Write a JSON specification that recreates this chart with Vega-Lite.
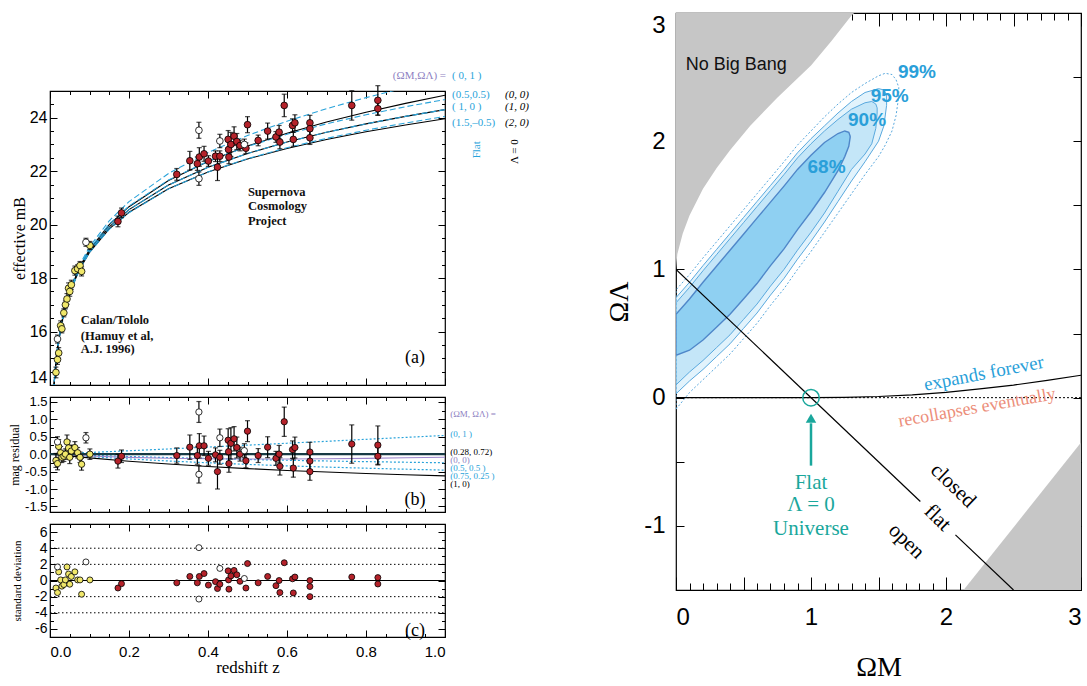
{
"$schema":"https://vega.github.io/schema/vega-lite/v6.json",
"background":"white",
"padding":{"left":7,"top":11,"right":0,"bottom":0},
"config":{
 "view":{"stroke":"black","strokeWidth":1.2},
 "axis":{"domain":false,"grid":false,"tickColor":"black","tickWidth":1,"labelColor":"black","titleColor":"black","labelFont":"Liberation Sans","titleFont":"Liberation Serif","titleFontWeight":"normal","labelOverlap":false,"labelBound":false}
},
"datasets":{
 "sn":[
  {"z":0.172,"m":20.12,"r":-0.20,"s":-0.93,"e":0.20,"g":"SCP"},
  {"z":0.181,"m":20.44,"r":-0.06,"s":-0.39,"e":0.18,"g":"SCP"},
  {"z":0.321,"m":21.88,"r":-0.04,"s":-0.29,"e":0.22,"g":"SCP"},
  {"z":0.354,"m":22.39,"r":0.20,"s":0.50,"e":0.35,"g":"SCP"},
  {"z":0.373,"m":22.28,"r":-0.04,"s":-0.29,"e":0.25,"g":"SCP"},
  {"z":0.378,"m":22.53,"r":0.24,"s":0.50,"e":0.35,"g":"SCP"},
  {"z":0.390,"m":22.65,"r":0.24,"s":0.86,"e":0.28,"g":"SCP"},
  {"z":0.401,"m":22.38,"r":-0.12,"s":-0.57,"e":0.20,"g":"SCP"},
  {"z":0.419,"m":22.56,"r":-0.02,"s":-0.14,"e":0.20,"g":"SCP"},
  {"z":0.424,"m":22.15,"r":-0.50,"s":-1.00,"e":0.50,"g":"SCP"},
  {"z":0.430,"m":22.56,"r":-0.09,"s":-0.46,"e":0.20,"g":"SCP"},
  {"z":0.451,"m":23.19,"r":0.40,"s":1.20,"e":0.33,"g":"SCP"},
  {"z":0.452,"m":22.81,"r":0.07,"s":0.07,"e":0.30,"g":"SCP"},
  {"z":0.453,"m":22.53,"r":-0.27,"s":-1.07,"e":0.25,"g":"SCP"},
  {"z":0.458,"m":23.00,"r":0.31,"s":0.57,"e":0.45,"g":"SCP"},
  {"z":0.466,"m":23.31,"r":0.44,"s":1.25,"e":0.35,"g":"SCP"},
  {"z":0.473,"m":23.11,"r":0.19,"s":0.71,"e":0.30,"g":"SCP"},
  {"z":0.481,"m":22.96,"r":0.00,"s":-0.10,"e":0.20,"g":"SCP"},
  {"z":0.496,"m":22.86,"r":-0.19,"s":-0.93,"e":0.20,"g":"SCP"},
  {"z":0.500,"m":23.74,"r":0.66,"s":2.10,"e":0.30,"g":"SCP"},
  {"z":0.527,"m":23.15,"r":-0.04,"s":-0.29,"e":0.20,"g":"SCP"},
  {"z":0.551,"m":23.50,"r":0.20,"s":0.50,"e":0.30,"g":"SCP"},
  {"z":0.572,"m":23.28,"r":-0.12,"s":-0.64,"e":0.20,"g":"SCP"},
  {"z":0.580,"m":23.46,"r":0.00,"s":0.00,"e":0.25,"g":"SCP"},
  {"z":0.582,"m":23.09,"r":-0.35,"s":-1.50,"e":0.25,"g":"SCP"},
  {"z":0.593,"m":24.46,"r":0.93,"s":2.20,"e":0.42,"g":"SCP"},
  {"z":0.614,"m":23.71,"r":0.13,"s":0.21,"e":0.25,"g":"SCP"},
  {"z":0.616,"m":23.19,"r":-0.40,"s":-1.54,"e":0.26,"g":"SCP"},
  {"z":0.620,"m":23.81,"r":0.19,"s":0.43,"e":0.30,"g":"SCP"},
  {"z":0.658,"m":23.81,"r":0.06,"s":0.00,"e":0.28,"g":"SCP"},
  {"z":0.658,"m":23.59,"r":-0.20,"s":-0.75,"e":0.25,"g":"SCP"},
  {"z":0.658,"m":23.25,"r":-0.50,"s":-2.00,"e":0.25,"g":"SCP"},
  {"z":0.764,"m":24.46,"r":0.29,"s":0.43,"e":0.55,"g":"SCP"},
  {"z":0.830,"m":24.65,"r":0.26,"s":0.36,"e":0.55,"g":"SCP"},
  {"z":0.830,"m":24.34,"r":-0.06,"s":-0.43,"e":0.25,"g":"SCP"},
  {"z":0.015,"m":14.47,"r":-0.18,"s":-0.93,"e":0.20,"g":"CT"},
  {"z":0.019,"m":14.95,"r":-0.27,"s":-1.50,"e":0.18,"g":"CT"},
  {"z":0.022,"m":15.20,"r":0.22,"s":1.07,"e":0.20,"g":"CT"},
  {"z":0.027,"m":16.22,"r":0.04,"s":0.07,"e":0.18,"g":"CT"},
  {"z":0.030,"m":16.10,"r":-0.09,"s":-0.70,"e":0.15,"g":"CT"},
  {"z":0.035,"m":16.70,"r":-0.06,"s":-0.50,"e":0.15,"g":"CT"},
  {"z":0.039,"m":17.00,"r":0.00,"s":0.07,"e":0.15,"g":"CT"},
  {"z":0.043,"m":17.22,"r":0.35,"s":1.68,"e":0.20,"g":"CT"},
  {"z":0.047,"m":17.62,"r":0.18,"s":0.80,"e":0.20,"g":"CT"},
  {"z":0.050,"m":17.50,"r":-0.09,"s":-0.46,"e":0.18,"g":"CT"},
  {"z":0.054,"m":17.75,"r":0.09,"s":0.50,"e":0.17,"g":"CT"},
  {"z":0.063,"m":18.28,"r":0.19,"s":1.07,"e":0.17,"g":"CT"},
  {"z":0.070,"m":18.35,"r":0.04,"s":0.07,"e":0.15,"g":"CT"},
  {"z":0.076,"m":18.47,"r":-0.09,"s":0.07,"e":0.15,"g":"CT"},
  {"z":0.080,"m":18.25,"r":-0.29,"s":-1.70,"e":0.17,"g":"CT"},
  {"z":0.101,"m":19.22,"r":0.00,"s":0.07,"e":0.15,"g":"CT"},
  {"z":0.019,"m":15.72,"r":0.35,"s":1.68,"e":0.15,"g":"out"},
  {"z":0.091,"m":19.34,"r":0.47,"s":2.30,"e":0.15,"g":"out"},
  {"z":0.377,"m":23.53,"r":1.21,"s":4.07,"e":0.30,"g":"out"},
  {"z":0.377,"m":21.72,"r":-0.58,"s":-2.30,"e":0.25,"g":"out"},
  {"z":0.430,"m":23.13,"r":0.47,"s":1.50,"e":0.25,"g":"out"},
  {"z":0.492,"m":23.00,"r":0.10,"s":0.25,"e":0.20,"g":"out"}
 ],
 "flatA":[
  {"c":"0,1","z":0.008,"m":13.47},{"c":"0,1","z":0.01,"m":13.98},{"c":"0,1","z":0.015,"m":14.873},{"c":"0,1","z":0.02,"m":15.508},{"c":"0,1","z":0.03,"m":16.41},{"c":"0,1","z":0.05,"m":17.561},{"c":"0,1","z":0.075,"m":18.492},{"c":"0,1","z":0.1,"m":19.167},{"c":"0,1","z":0.15,"m":20.144},{"c":"0,1","z":0.2,"m":20.861},{"c":"0,1","z":0.3,"m":21.915},{"c":"0,1","z":0.4,"m":22.701},{"c":"0,1","z":0.5,"m":23.335},{"c":"0,1","z":0.6,"m":23.871},{"c":"0,1","z":0.7,"m":24.338},{"c":"0,1","z":0.8,"m":24.752},{"c":"0,1","z":0.9,"m":25.125},{"c":"0,1","z":1.0,"m":25.465},
  {"c":"0.5,0.5","z":0.008,"m":13.47},{"c":"0.5,0.5","z":0.01,"m":13.975},{"c":"0.5,0.5","z":0.015,"m":14.861},{"c":"0.5,0.5","z":0.02,"m":15.492},{"c":"0.5,0.5","z":0.03,"m":16.39},{"c":"0.5,0.5","z":0.05,"m":17.522},{"c":"0.5,0.5","z":0.075,"m":18.435},{"c":"0.5,0.5","z":0.1,"m":19.087},{"c":"0.5,0.5","z":0.15,"m":20.021},{"c":"0.5,0.5","z":0.2,"m":20.696},{"c":"0.5,0.5","z":0.3,"m":21.668},{"c":"0.5,0.5","z":0.4,"m":22.372},{"c":"0.5,0.5","z":0.5,"m":22.926},{"c":"0.5,0.5","z":0.6,"m":23.383},{"c":"0.5,0.5","z":0.7,"m":23.772},{"c":"0.5,0.5","z":0.8,"m":24.111},{"c":"0.5,0.5","z":0.9,"m":24.411},{"c":"0.5,0.5","z":1.0,"m":24.68},
  {"c":"1,0","z":0.008,"m":13.47},{"c":"1,0","z":0.01,"m":13.965},{"c":"1,0","z":0.015,"m":14.849},{"c":"1,0","z":0.02,"m":15.476},{"c":"1,0","z":0.03,"m":16.36},{"c":"1,0","z":0.05,"m":17.482},{"c":"1,0","z":0.075,"m":18.376},{"c":"1,0","z":0.1,"m":19.011},{"c":"1,0","z":0.15,"m":19.915},{"c":"1,0","z":0.2,"m":20.562},{"c":"1,0","z":0.3,"m":21.483},{"c":"1,0","z":0.4,"m":22.145},{"c":"1,0","z":0.5,"m":22.664},{"c":"1,0","z":0.6,"m":23.091},{"c":"1,0","z":0.7,"m":23.455},{"c":"1,0","z":0.8,"m":23.771},{"c":"1,0","z":0.9,"m":24.052},{"c":"1,0","z":1.0,"m":24.304},
  {"c":"1.5,-0.5","z":0.008,"m":13.47},{"c":"1.5,-0.5","z":0.01,"m":13.96},{"c":"1.5,-0.5","z":0.015,"m":14.837},{"c":"1.5,-0.5","z":0.02,"m":15.46},{"c":"1.5,-0.5","z":0.03,"m":16.34},{"c":"1.5,-0.5","z":0.05,"m":17.441},{"c":"1.5,-0.5","z":0.075,"m":18.315},{"c":"1.5,-0.5","z":0.1,"m":18.962},{"c":"1.5,-0.5","z":0.15,"m":19.822},{"c":"1.5,-0.5","z":0.2,"m":20.448},{"c":"1.5,-0.5","z":0.3,"m":21.337},{"c":"1.5,-0.5","z":0.4,"m":21.97},{"c":"1.5,-0.5","z":0.5,"m":22.468},{"c":"1.5,-0.5","z":0.6,"m":22.878},{"c":"1.5,-0.5","z":0.7,"m":23.227},{"c":"1.5,-0.5","z":0.8,"m":23.532},{"c":"1.5,-0.5","z":0.9,"m":23.803},{"c":"1.5,-0.5","z":1.0,"m":24.046}
 ],
 "lamA":[
  {"c":"0,0","z":0.008,"m":13.47},{"c":"0,0","z":0.01,"m":13.97},{"c":"0,0","z":0.015,"m":14.857},{"c":"0,0","z":0.02,"m":15.487},{"c":"0,0","z":0.03,"m":16.378},{"c":"0,0","z":0.05,"m":17.508},{"c":"0,0","z":0.075,"m":18.415},{"c":"0,0","z":0.1,"m":19.066},{"c":"0,0","z":0.15,"m":19.997},{"c":"0,0","z":0.2,"m":20.672},{"c":"0,0","z":0.3,"m":21.649},{"c":"0,0","z":0.4,"m":22.366},{"c":"0,0","z":0.5,"m":22.939},{"c":"0,0","z":0.6,"m":23.42},{"c":"0,0","z":0.7,"m":23.837},{"c":"0,0","z":0.8,"m":24.206},{"c":"0,0","z":0.9,"m":24.538},{"c":"0,0","z":1.0,"m":24.84},
  {"c":"1,0","z":0.008,"m":13.47},{"c":"1,0","z":0.01,"m":13.965},{"c":"1,0","z":0.015,"m":14.849},{"c":"1,0","z":0.02,"m":15.476},{"c":"1,0","z":0.03,"m":16.36},{"c":"1,0","z":0.05,"m":17.482},{"c":"1,0","z":0.075,"m":18.376},{"c":"1,0","z":0.1,"m":19.011},{"c":"1,0","z":0.15,"m":19.915},{"c":"1,0","z":0.2,"m":20.562},{"c":"1,0","z":0.3,"m":21.483},{"c":"1,0","z":0.4,"m":22.145},{"c":"1,0","z":0.5,"m":22.664},{"c":"1,0","z":0.6,"m":23.091},{"c":"1,0","z":0.7,"m":23.455},{"c":"1,0","z":0.8,"m":23.771},{"c":"1,0","z":0.9,"m":24.052},{"c":"1,0","z":1.0,"m":24.304},
  {"c":"2,0","z":0.008,"m":13.47},{"c":"2,0","z":0.01,"m":13.96},{"c":"2,0","z":0.015,"m":14.84},{"c":"2,0","z":0.02,"m":15.465},{"c":"2,0","z":0.03,"m":16.346},{"c":"2,0","z":0.05,"m":17.455},{"c":"2,0","z":0.075,"m":18.335},{"c":"2,0","z":0.1,"m":18.96},{"c":"2,0","z":0.15,"m":19.84},{"c":"2,0","z":0.2,"m":20.465},{"c":"2,0","z":0.3,"m":21.346},{"c":"2,0","z":0.4,"m":21.97},{"c":"2,0","z":0.5,"m":22.455},{"c":"2,0","z":0.6,"m":22.851},{"c":"2,0","z":0.7,"m":23.186},{"c":"2,0","z":0.8,"m":23.475},{"c":"2,0","z":0.9,"m":23.731},{"c":"2,0","z":1.0,"m":23.96}
 ],
 "resDot":[
  {"c":"0,1","z":0.0,"r":0},{"c":"0,1","z":0.1,"r":0.048},{"c":"0,1","z":0.2,"r":0.097},{"c":"0,1","z":0.3,"r":0.149},{"c":"0,1","z":0.4,"r":0.203},{"c":"0,1","z":0.5,"r":0.258},{"c":"0,1","z":0.6,"r":0.313},{"c":"0,1","z":0.7,"r":0.369},{"c":"0,1","z":0.8,"r":0.426},{"c":"0,1","z":0.9,"r":0.481},{"c":"0,1","z":1.0,"r":0.537},
  {"c":"0.5,0.5","z":0.0,"r":0},{"c":"0.5,0.5","z":0.1,"r":-0.033},{"c":"0.5,0.5","z":0.2,"r":-0.068},{"c":"0.5,0.5","z":0.3,"r":-0.098},{"c":"0.5,0.5","z":0.4,"r":-0.126},{"c":"0.5,0.5","z":0.5,"r":-0.152},{"c":"0.5,0.5","z":0.6,"r":-0.175},{"c":"0.5,0.5","z":0.7,"r":-0.196},{"c":"0.5,0.5","z":0.8,"r":-0.215},{"c":"0.5,0.5","z":0.9,"r":-0.232},{"c":"0.5,0.5","z":1.0,"r":-0.248},
  {"c":"0.75,0.25","z":0.0,"r":0},{"c":"0.75,0.25","z":0.1,"r":-0.068},{"c":"0.75,0.25","z":0.2,"r":-0.138},{"c":"0.75,0.25","z":0.3,"r":-0.196},{"c":"0.75,0.25","z":0.4,"r":-0.248},{"c":"0.75,0.25","z":0.5,"r":-0.294},{"c":"0.75,0.25","z":0.6,"r":-0.335},{"c":"0.75,0.25","z":0.7,"r":-0.371},{"c":"0.75,0.25","z":0.8,"r":-0.403},{"c":"0.75,0.25","z":0.9,"r":-0.432},{"c":"0.75,0.25","z":1.0,"r":-0.458}
 ],
 "resSolid":[
  {"c":"0,0","z":0.0,"r":0},{"c":"0,0","z":0.1,"r":-0.053},{"c":"0,0","z":0.2,"r":-0.092},{"c":"0,0","z":0.3,"r":-0.117},{"c":"0,0","z":0.4,"r":-0.132},{"c":"0,0","z":0.5,"r":-0.138},{"c":"0,0","z":0.6,"r":-0.138},{"c":"0,0","z":0.7,"r":-0.131},{"c":"0,0","z":0.8,"r":-0.120},{"c":"0,0","z":0.9,"r":-0.105},{"c":"0,0","z":1.0,"r":-0.087},
  {"c":"1,0","z":0.0,"r":0},{"c":"1,0","z":0.1,"r":-0.108},{"c":"1,0","z":0.2,"r":-0.202},{"c":"1,0","z":0.3,"r":-0.283},{"c":"1,0","z":0.4,"r":-0.353},{"c":"1,0","z":0.5,"r":-0.414},{"c":"1,0","z":0.6,"r":-0.467},{"c":"1,0","z":0.7,"r":-0.514},{"c":"1,0","z":0.8,"r":-0.555},{"c":"1,0","z":0.9,"r":-0.592},{"c":"1,0","z":1.0,"r":-0.624}
 ],
 "resRef":[{"z":0.0,"r":0},{"z":1.0,"r":0}],
 "txtA":[
  {"z":0.501,"m":21.23,"t":"Supernova"},{"z":0.501,"m":20.70,"t":"Cosmology"},{"z":0.501,"m":20.14,"t":"Project"},
  {"z":0.078,"m":16.43,"t":"Calan/Tololo"},{"z":0.078,"m":15.83,"t":"(Hamuy et al,"},{"z":0.078,"m":15.35,"t":"A.J. 1996)"}
 ],
 "labA":[{"z":0.924,"m":15.0,"t":"(a)"}],
 "labB":[{"z":0.924,"r":-1.32,"t":"(b)"}],
 "labC":[{"z":0.924,"s":-6.3,"t":"(c)"}],
 "legHead":[
  {"z":0.868,"y":0.05,"t":"(ΩM,ΩΛ) =","k":"head"},
  {"z":1.018,"y":0.05,"t":"( 0,   1 )","k":"flat"}
 ],
 "legA":[
  {"z":1.018,"m":24.86,"t":"(0.5,0.5)","k":"flat"},
  {"z":1.018,"m":24.41,"t":"( 1,   0 )","k":"flat"},
  {"z":1.018,"m":23.79,"t":"(1.5,–0.5)","k":"flat"},
  {"z":1.152,"m":24.86,"t":"(0, 0)","k":"lam"},
  {"z":1.152,"m":24.41,"t":"(1, 0)","k":"lam"},
  {"z":1.152,"m":23.79,"t":"(2, 0)","k":"lam"}
 ],
 "rotA":[{"z":1.081,"m":22.8,"t":"Flat","k":"flat"},{"z":1.177,"m":22.73,"t":"Λ = 0","k":"lam"}],
 "legB":[
  {"z":1.013,"r":1.145,"t":"(ΩM, ΩΛ) =","k":"head"},
  {"z":1.013,"r":0.565,"t":"(0,      1 )","k":"flat"},
  {"z":1.013,"r":0.07,"t":"(0.28,  0.72)","k":"lam"},
  {"z":1.013,"r":-0.16,"t":"(0,      0)","k":"head"},
  {"z":1.013,"r":-0.39,"t":"(0.5,    0.5 )","k":"flat"},
  {"z":1.013,"r":-0.62,"t":"(0.75,  0.25 )","k":"flat"},
  {"z":1.013,"r":-0.85,"t":"(1,      0)","k":"lam"}
 ],
 "sdLines":[{"v":-4},{"v":-2},{"v":2},{"v":4}],
 "sdZero":[{"v":0}],
 "nbb":[{"om":0,"ol":1.0},{"om":0.01,"ol":1.12},{"om":0.05,"ol":1.28},{"om":0.1,"ol":1.42},{"om":0.2,"ol":1.63},{"om":0.3,"ol":1.79},{"om":0.4,"ol":1.93},{"om":0.55,"ol":2.12},{"om":0.75,"ol":2.34},{"om":1.0,"ol":2.59},{"om":1.15,"ol":2.78},{"om":1.3,"ol":2.98},{"om":1.32,"ol":3.0}],
 "closedR":[{"om":2.13,"ol":-1.5},{"om":3.0,"ol":-0.35}],
 "c68":[{"om":0,"lo":0.33,"hi":0.65},{"om":0.1,"lo":0.37,"hi":0.77},{"om":0.2,"lo":0.45,"hi":0.90},{"om":0.3,"lo":0.55,"hi":1.025},{"om":0.4,"lo":0.65,"hi":1.15},{"om":0.5,"lo":0.77,"hi":1.275},{"om":0.6,"lo":0.89,"hi":1.40},{"om":0.7,"lo":1.03,"hi":1.525},{"om":0.8,"lo":1.16,"hi":1.65},{"om":0.9,"lo":1.31,"hi":1.78},{"om":1.0,"lo":1.45,"hi":1.89},{"om":1.1,"lo":1.60,"hi":1.99},{"om":1.2,"lo":1.77,"hi":2.06},{"om":1.25,"lo":1.88,"hi":2.08},{"om":1.28,"lo":1.96,"hi":2.07},{"om":1.29,"lo":2.03,"hi":2.04}],
 "c90":[{"om":0,"lo":0.10,"hi":0.74},{"om":0.1,"lo":0.20,"hi":0.86},{"om":0.2,"lo":0.29,"hi":0.99},{"om":0.3,"lo":0.39,"hi":1.115},{"om":0.4,"lo":0.49,"hi":1.24},{"om":0.5,"lo":0.61,"hi":1.365},{"om":0.6,"lo":0.73,"hi":1.49},{"om":0.7,"lo":0.87,"hi":1.615},{"om":0.8,"lo":1.00,"hi":1.74},{"om":0.9,"lo":1.15,"hi":1.87},{"om":1.0,"lo":1.29,"hi":1.98},{"om":1.1,"lo":1.44,"hi":2.08},{"om":1.2,"lo":1.61,"hi":2.17},{"om":1.3,"lo":1.78,"hi":2.25},{"om":1.4,"lo":1.90,"hi":2.30},{"om":1.45,"lo":1.98,"hi":2.31},{"om":1.48,"lo":2.10,"hi":2.29},{"om":1.49,"lo":2.22,"hi":2.26}],
 "c95":[{"om":0,"lo":0.03,"hi":0.78},{"om":0.1,"lo":0.13,"hi":0.90},{"om":0.2,"lo":0.22,"hi":1.03},{"om":0.3,"lo":0.32,"hi":1.155},{"om":0.4,"lo":0.42,"hi":1.28},{"om":0.5,"lo":0.54,"hi":1.405},{"om":0.6,"lo":0.66,"hi":1.53},{"om":0.7,"lo":0.80,"hi":1.655},{"om":0.8,"lo":0.93,"hi":1.78},{"om":0.9,"lo":1.08,"hi":1.91},{"om":1.0,"lo":1.22,"hi":2.02},{"om":1.1,"lo":1.37,"hi":2.12},{"om":1.2,"lo":1.53,"hi":2.22},{"om":1.3,"lo":1.69,"hi":2.31},{"om":1.4,"lo":1.84,"hi":2.38},{"om":1.5,"lo":2.00,"hi":2.41},{"om":1.54,"lo":2.12,"hi":2.40},{"om":1.56,"lo":2.28,"hi":2.36}],
 "c99":[{"om":0,"lo":-0.09,"hi":0.84},{"om":0.1,"lo":0.04,"hi":0.96},{"om":0.2,"lo":0.14,"hi":1.09},{"om":0.3,"lo":0.24,"hi":1.215},{"om":0.4,"lo":0.34,"hi":1.34},{"om":0.5,"lo":0.46,"hi":1.465},{"om":0.6,"lo":0.58,"hi":1.59},{"om":0.7,"lo":0.72,"hi":1.715},{"om":0.8,"lo":0.85,"hi":1.84},{"om":0.9,"lo":1.00,"hi":1.97},{"om":1.0,"lo":1.14,"hi":2.08},{"om":1.1,"lo":1.29,"hi":2.19},{"om":1.2,"lo":1.44,"hi":2.29},{"om":1.3,"lo":1.59,"hi":2.38},{"om":1.4,"lo":1.74,"hi":2.45},{"om":1.5,"lo":1.88,"hi":2.51},{"om":1.55,"lo":1.97,"hi":2.53},{"om":1.6,"lo":2.08,"hi":2.52},{"om":1.63,"lo":2.2,"hi":2.48},{"om":1.65,"lo":2.35,"hi":2.42}],
 "flatR":[{"om":0,"ol":1,"seg":"a"},{"om":1.81,"ol":-0.81,"seg":"a"},{"om":2.07,"ol":-1.07,"seg":"b"},{"om":2.5,"ol":-1.5,"seg":"b"}],
 "expR":[{"om":0,"ol":0},{"om":1,"ol":0},{"om":1.25,"ol":0.002},{"om":1.5,"ol":0.009},{"om":1.75,"ol":0.022},{"om":2,"ol":0.042},{"om":2.25,"ol":0.068},{"om":2.5,"ol":0.098},{"om":2.75,"ol":0.135},{"om":3,"ol":0.175}],
 "zeroR":[{"ol":0}],
 "circR":[{"om":1,"ol":0}],
 "arrowR":[{"om":1,"a":-0.53,"b":-0.2}],
 "headR":[{"om":1,"ol":-0.16}],
 "annR":[
  {"om":0.072,"ol":2.593,"t":"No Big Bang","k":"nbb"},
  {"om":1.115,"ol":1.80,"t":"68%","k":"pct"},
  {"om":1.415,"ol":2.167,"t":"90%","k":"pct"},
  {"om":1.583,"ol":2.349,"t":"95%","k":"pct"},
  {"om":1.785,"ol":2.543,"t":"99%","k":"pct"},
  {"om":2.28,"ol":0.19,"t":"expands forever","k":"exp"},
  {"om":2.23,"ol":-0.08,"t":"recollapses eventually","k":"rec"},
  {"om":2.052,"ol":-0.687,"t":"closed","k":"geo"},
  {"om":1.936,"ol":-0.938,"t":"flat","k":"geo"},
  {"om":1.706,"ol":-1.12,"t":"open","k":"geo"},
  {"om":1.0,"ol":-0.667,"t":"Flat","k":"uni"},
  {"om":1.0,"ol":-0.837,"t":"Λ = 0","k":"uni"},
  {"om":1.0,"ol":-1.023,"t":"Universe","k":"uni"}
 ]
},
"spacing":75,
"hconcat":[
 {
  "bounds":"flush",
  "spacing":12,
  "vconcat":[
   {
    "width":395,"height":66,
    "view":{"stroke":null},
    "layer":[
     {"data":{"name":"legHead"},"transform":[{"filter":"datum.k == 'head'"}],
      "mark":{"type":"text","font":"Liberation Serif","fontSize":11,"color":"#8e7fc2","align":"left","baseline":"middle"},
      "encoding":{
       "x":{"field":"z","type":"quantitative","scale":{"domain":[0,1],"nice":false,"zero":false},"axis":null},
       "y":{"field":"y","type":"quantitative","scale":{"domain":[0,1],"nice":false,"zero":false},"axis":null},
       "text":{"field":"t"}}},
     {"data":{"name":"legHead"},"transform":[{"filter":"datum.k == 'flat'"}],
      "mark":{"type":"text","font":"Liberation Serif","fontSize":11,"color":"#29a3da","align":"left","baseline":"middle"},
      "encoding":{
       "x":{"field":"z","type":"quantitative","axis":null},
       "y":{"field":"y","type":"quantitative","axis":null},
       "text":{"field":"t"}}}
    ]
   },
   {
    "width":395,"height":294,
    "resolve":{"axis":{"x":"independent","y":"independent"}},
    "layer":[
     {"data":{"name":"lamA"},
      "mark":{"type":"line","stroke":"black","strokeWidth":1.1,"clip":true},
      "encoding":{
       "x":{"field":"z","type":"quantitative","scale":{"domain":[0,1],"nice":false,"zero":false},"axis":{"orient":"bottom","values":[0,0.2,0.4,0.6,0.8,1],"tickSize":-7,"labels":false,"title":null}},
       "y":{"field":"m","type":"quantitative","scale":{"domain":[14,25],"nice":false,"zero":false},"axis":{"orient":"left","values":[14,16,18,20,22,24],"tickSize":-7,"labelFontSize":16,"labelPadding":10,"labelFlush":true,"title":"effective mB","titleFontSize":16,"titlePadding":2}},
       "detail":{"field":"c","type":"nominal"}}},
     {"data":{"name":"flatA"},
      "mark":{"type":"line","stroke":"#29a3da","strokeWidth":1.1,"strokeDash":[6,3],"clip":true},
      "encoding":{
       "x":{"field":"z","type":"quantitative","axis":{"orient":"top","values":[0,0.2,0.4,0.6,0.8,1],"tickSize":-7,"labels":false,"title":null}},
       "y":{"field":"m","type":"quantitative","axis":{"orient":"right","values":[14,16,18,20,22,24],"tickSize":-7,"labels":false,"title":null}},
       "detail":{"field":"c","type":"nominal"}}},
     {"data":{"name":"sn"},
      "mark":{"type":"errorbar","ticks":{"size":5},"color":"black","thickness":1.2},
      "encoding":{
       "x":{"field":"z","type":"quantitative","axis":null},
       "y":{"field":"m","type":"quantitative","axis":null},
       "yError":{"field":"e"}}},
     {"data":{"name":"sn"},
      "mark":{"type":"circle","size":45,"stroke":"black","strokeWidth":0.8,"opacity":1},
      "encoding":{
       "x":{"field":"z","type":"quantitative","axis":{"orient":"bottom","values":[0.05,0.1,0.15,0.25,0.3,0.35,0.45,0.5,0.55,0.65,0.7,0.75,0.85,0.9,0.95],"tickSize":-3.5,"labels":false,"title":null}},
       "y":{"field":"m","type":"quantitative","axis":{"orient":"left","values":[14.5,15,15.5,16.5,17,17.5,18.5,19,19.5,20.5,21,21.5,22.5,23,23.5,24.5],"tickSize":-3.5,"labels":false,"title":null}},
       "fill":{"field":"g","type":"nominal","scale":{"domain":["CT","SCP","out"],"range":["#f0e76a","#b5222a","#ffffff"]},"legend":null}}},
     {"data":{"name":"txtA"},
      "mark":{"type":"text","font":"Liberation Serif","fontWeight":"bold","fontSize":12.5,"align":"left","baseline":"middle","color":"#111111"},
      "encoding":{
       "x":{"field":"z","type":"quantitative","axis":{"orient":"top","values":[0.05,0.1,0.15,0.25,0.3,0.35,0.45,0.5,0.55,0.65,0.7,0.75,0.85,0.9,0.95],"tickSize":-3.5,"labels":false,"title":null}},
       "y":{"field":"m","type":"quantitative","axis":{"orient":"right","values":[14.5,15,15.5,16.5,17,17.5,18.5,19,19.5,20.5,21,21.5,22.5,23,23.5,24.5],"tickSize":-3.5,"labels":false,"title":null}},
       "text":{"field":"t"}}},
     {"data":{"name":"labA"},
      "mark":{"type":"text","font":"Liberation Serif","fontSize":18,"color":"black","baseline":"middle"},
      "encoding":{"x":{"field":"z","type":"quantitative","axis":null},"y":{"field":"m","type":"quantitative","axis":null},"text":{"field":"t"}}},
     {"data":{"name":"legA"},"transform":[{"filter":"datum.k == 'flat'"}],
      "mark":{"type":"text","font":"Liberation Serif","fontSize":11,"color":"#29a3da","align":"left","baseline":"middle"},
      "encoding":{"x":{"field":"z","type":"quantitative","axis":null},"y":{"field":"m","type":"quantitative","axis":null},"text":{"field":"t"}}},
     {"data":{"name":"legA"},"transform":[{"filter":"datum.k == 'lam'"}],
      "mark":{"type":"text","font":"Liberation Serif","fontSize":11,"fontStyle":"italic","color":"black","align":"left","baseline":"middle"},
      "encoding":{"x":{"field":"z","type":"quantitative","axis":null},"y":{"field":"m","type":"quantitative","axis":null},"text":{"field":"t"}}},
     {"data":{"name":"rotA"},"transform":[{"filter":"datum.k == 'flat'"}],
      "mark":{"type":"text","font":"Liberation Serif","fontSize":11,"color":"#29a3da","angle":270,"baseline":"middle"},
      "encoding":{"x":{"field":"z","type":"quantitative","axis":null},"y":{"field":"m","type":"quantitative","axis":null},"text":{"field":"t"}}},
     {"data":{"name":"rotA"},"transform":[{"filter":"datum.k == 'lam'"}],
      "mark":{"type":"text","font":"Liberation Serif","fontSize":11,"color":"black","angle":270,"baseline":"middle"},
      "encoding":{"x":{"field":"z","type":"quantitative","axis":null},"y":{"field":"m","type":"quantitative","axis":null},"text":{"field":"t"}}}
    ]
   },
   {
    "width":395,"height":115,
    "resolve":{"axis":{"x":"independent","y":"independent"}},
    "layer":[
     {"data":{"name":"resDot"},
      "mark":{"type":"line","stroke":"#29a3da","strokeWidth":1.2,"strokeDash":[2,2],"clip":true},
      "encoding":{
       "x":{"field":"z","type":"quantitative","scale":{"domain":[0,1],"nice":false,"zero":false},"axis":{"orient":"bottom","values":[0,0.2,0.4,0.6,0.8,1],"tickSize":-7,"labels":false,"title":null}},
       "y":{"field":"r","type":"quantitative","scale":{"domain":[-1.66,1.64],"nice":false,"zero":false},"axis":{"orient":"left","values":[-1.5,-1,-0.5,0,0.5,1,1.5],"tickSize":-7,"labelFontSize":13,"labelPadding":10,"labelExpr":"(datum.value < 0 ? '-' : '') + format(abs(datum.value), '.1f')","title":"mag residual","titleFontSize":12,"titlePadding":3}},
       "detail":{"field":"c","type":"nominal"}}},
     {"data":{"name":"resSolid"},
      "mark":{"type":"line","strokeWidth":1.1,"clip":true},
      "encoding":{
       "x":{"field":"z","type":"quantitative","axis":{"orient":"top","values":[0,0.2,0.4,0.6,0.8,1],"tickSize":-7,"labels":false,"title":null}},
       "y":{"field":"r","type":"quantitative","axis":{"orient":"right","values":[-1.5,-1,-0.5,0,0.5,1,1.5],"tickSize":-7,"labels":false,"title":null}},
       "color":{"field":"c","type":"nominal","scale":{"domain":["0,0","1,0"],"range":["#9d86cc","#000000"]},"legend":null}}},
     {"data":{"name":"resRef"},
      "mark":{"type":"line","stroke":"#173a44","strokeWidth":2.2,"clip":true},
      "encoding":{
       "x":{"field":"z","type":"quantitative","axis":{"orient":"bottom","values":[0.05,0.1,0.15,0.25,0.3,0.35,0.45,0.5,0.55,0.65,0.7,0.75,0.85,0.9,0.95],"tickSize":-3.5,"labels":false,"title":null}},
       "y":{"field":"r","type":"quantitative","axis":{"orient":"left","values":[-1.25,-0.75,-0.25,0.25,0.75,1.25],"tickSize":-3.5,"labels":false,"title":null}}}},
     {"data":{"name":"sn"},
      "mark":{"type":"errorbar","ticks":{"size":5},"color":"black","thickness":1.2},
      "encoding":{
       "x":{"field":"z","type":"quantitative","axis":null},
       "y":{"field":"r","type":"quantitative","axis":null},
       "yError":{"field":"e"}}},
     {"data":{"name":"sn"},
      "mark":{"type":"circle","size":40,"stroke":"black","strokeWidth":0.8,"opacity":1},
      "encoding":{
       "x":{"field":"z","type":"quantitative","axis":{"orient":"top","values":[0.05,0.1,0.15,0.25,0.3,0.35,0.45,0.5,0.55,0.65,0.7,0.75,0.85,0.9,0.95],"tickSize":-3.5,"labels":false,"title":null}},
       "y":{"field":"r","type":"quantitative","axis":{"orient":"right","values":[-1.25,-0.75,-0.25,0.25,0.75,1.25],"tickSize":-3.5,"labels":false,"title":null}},
       "fill":{"field":"g","type":"nominal","scale":{"domain":["CT","SCP","out"],"range":["#f0e76a","#b5222a","#ffffff"]},"legend":null}}},
     {"data":{"name":"labB"},
      "mark":{"type":"text","font":"Liberation Serif","fontSize":18,"color":"black","baseline":"middle"},
      "encoding":{"x":{"field":"z","type":"quantitative","axis":null},"y":{"field":"r","type":"quantitative","axis":null},"text":{"field":"t"}}},
     {"data":{"name":"legB"},"transform":[{"filter":"datum.k == 'head'"}],
      "mark":{"type":"text","font":"Liberation Serif","fontSize":9,"color":"#8e7fc2","align":"left","baseline":"middle"},
      "encoding":{"x":{"field":"z","type":"quantitative","axis":null},"y":{"field":"r","type":"quantitative","axis":null},"text":{"field":"t"}}},
     {"data":{"name":"legB"},"transform":[{"filter":"datum.k == 'flat'"}],
      "mark":{"type":"text","font":"Liberation Serif","fontSize":9,"color":"#29a3da","align":"left","baseline":"middle"},
      "encoding":{"x":{"field":"z","type":"quantitative","axis":null},"y":{"field":"r","type":"quantitative","axis":null},"text":{"field":"t"}}},
     {"data":{"name":"legB"},"transform":[{"filter":"datum.k == 'lam'"}],
      "mark":{"type":"text","font":"Liberation Serif","fontSize":9,"color":"black","align":"left","baseline":"middle"},
      "encoding":{"x":{"field":"z","type":"quantitative","axis":null},"y":{"field":"r","type":"quantitative","axis":null},"text":{"field":"t"}}}
    ]
   },
   {
    "width":395,"height":113,
    "resolve":{"axis":{"x":"independent","y":"independent"}},
    "layer":[
     {"data":{"name":"sdLines"},
      "mark":{"type":"rule","stroke":"black","strokeWidth":1,"strokeDash":[1.5,2.5]},
      "encoding":{
       "x":{"datum":0,"type":"quantitative","scale":{"domain":[0,1],"nice":false,"zero":false},"axis":{"orient":"bottom","values":[0.05,0.1,0.15,0.25,0.3,0.35,0.45,0.5,0.55,0.65,0.7,0.75,0.85,0.9,0.95],"tickSize":-3.5,"labels":false,"title":null}},
       "x2":{"datum":1},
       "y":{"field":"v","type":"quantitative","scale":{"domain":[-7,7],"nice":false,"zero":false},"axis":{"orient":"left","values":[-5,-3,-1,1,3,5],"tickSize":-3.5,"labels":false,"title":null}}}},
     {"data":{"name":"sdZero"},
      "mark":{"type":"rule","stroke":"black","strokeWidth":1.2},
      "encoding":{
       "x":{"datum":0,"type":"quantitative","axis":{"orient":"top","values":[0.05,0.1,0.15,0.25,0.3,0.35,0.45,0.5,0.55,0.65,0.7,0.75,0.85,0.9,0.95],"tickSize":-3.5,"labels":false,"title":null}},
       "x2":{"datum":1},
       "y":{"field":"v","type":"quantitative","axis":{"orient":"right","values":[-5,-3,-1,1,3,5],"tickSize":-3.5,"labels":false,"title":null}}}},
     {"data":{"name":"sn"},
      "mark":{"type":"circle","size":36,"stroke":"black","strokeWidth":0.8,"opacity":1},
      "encoding":{
       "x":{"field":"z","type":"quantitative","axis":{"orient":"bottom","values":[0,0.2,0.4,0.6,0.8,1],"tickSize":-7,"labelFontSize":15,"labelPadding":14,"labelExpr":"format(datum.value, '.1f')","title":"redshift z","titleFontSize":17,"titlePadding":0}},
       "y":{"field":"s","type":"quantitative","axis":{"orient":"left","values":[-6,-4,-2,0,2,4,6],"tickSize":-7,"labelFontSize":14,"labelPadding":10,"labelExpr":"(datum.value < 0 ? '-' : '') + abs(datum.value)","title":"standard deviation","titleFontSize":11,"titlePadding":12}},
       "fill":{"field":"g","type":"nominal","scale":{"domain":["CT","SCP","out"],"range":["#f0e76a","#b5222a","#ffffff"]},"legend":null}}},
     {"data":{"name":"labC"},
      "mark":{"type":"text","font":"Liberation Serif","fontSize":18,"color":"black","baseline":"middle"},
      "encoding":{
       "x":{"field":"z","type":"quantitative","axis":{"orient":"top","values":[0,0.2,0.4,0.6,0.8,1],"tickSize":-7,"labels":false,"title":null}},
       "y":{"field":"s","type":"quantitative","axis":{"orient":"right","values":[-6,-4,-2,0,2,4,6],"tickSize":-7,"labels":false,"title":null}},
       "text":{"field":"t"}}}
    ]
   }
  ]
 },
 {
  "width":405,"height":577,
  "resolve":{"axis":{"x":"independent","y":"independent"}},
  "layer":[
   {"data":{"name":"nbb"},
    "mark":{"type":"area","color":"#c6c6c6","clip":true},
    "encoding":{
     "x":{"field":"om","type":"quantitative","scale":{"domain":[0,3],"nice":false,"zero":false},"axis":{"orient":"bottom","values":[0,0.5,1,1.5,2,2.5,3],"tickSize":-13,"labelExpr":"datum.value % 1 == 0 ? '' + datum.value : ''","labelFontSize":24,"labelPadding":28,"title":"ΩM","titleFontSize":28,"titlePadding":24}},
     "y":{"field":"ol","type":"quantitative","scale":{"domain":[-1.5,3],"nice":false,"zero":false},"axis":{"orient":"left","values":[-1.5,-1,-0.5,0,0.5,1,1.5,2,2.5,3],"tickSize":-8,"labelExpr":"datum.value % 1 == 0 ? '' + datum.value : ''","labelFontSize":24,"labelPadding":19,"labelFlush":true,"title":"ΩΛ","titleFontSize":28,"titlePadding":10}},
     "y2":{"datum":3}}},
   {"data":{"name":"closedR"},
    "mark":{"type":"area","color":"#c6c6c6","clip":true},
    "encoding":{
     "x":{"field":"om","type":"quantitative","axis":{"orient":"top","values":[0,0.5,1,1.5,2,2.5,3],"tickSize":-13,"labels":false,"title":null}},
     "y":{"field":"ol","type":"quantitative","axis":{"orient":"right","values":[-1.5,-1,-0.5,0,0.5,1,1.5,2,2.5,3],"tickSize":-8,"labels":false,"title":null}},
     "y2":{"datum":-1.5}}},
   {"data":{"name":"c95"},
    "mark":{"type":"area","fill":"#e2f3fc","stroke":"#5aa9de","strokeWidth":1,"clip":true},
    "encoding":{
     "x":{"field":"om","type":"quantitative","axis":{"orient":"bottom","values":[0.1,0.2,0.3,0.4,0.6,0.7,0.8,0.9,1.1,1.2,1.3,1.4,1.6,1.7,1.8,1.9,2.1,2.2,2.3,2.4,2.6,2.7,2.8,2.9],"tickSize":-7,"labels":false,"title":null}},
     "y":{"field":"lo","type":"quantitative","axis":null},
     "y2":{"field":"hi"}}},
   {"data":{"name":"c90"},
    "mark":{"type":"area","fill":"#c4e6f8","stroke":"#5aa9de","strokeWidth":1,"clip":true},
    "encoding":{
     "x":{"field":"om","type":"quantitative","axis":{"orient":"top","values":[0.1,0.2,0.3,0.4,0.6,0.7,0.8,0.9,1.1,1.2,1.3,1.4,1.6,1.7,1.8,1.9,2.1,2.2,2.3,2.4,2.6,2.7,2.8,2.9],"tickSize":-7,"labels":false,"title":null}},
     "y":{"field":"lo","type":"quantitative","axis":null},
     "y2":{"field":"hi"}}},
   {"data":{"name":"c68"},
    "mark":{"type":"area","fill":"#8fd0f2","stroke":"#4f87c9","strokeWidth":1.4,"clip":true},
    "encoding":{
     "x":{"field":"om","type":"quantitative","axis":null},
     "y":{"field":"lo","type":"quantitative","axis":null},
     "y2":{"field":"hi"}}},
   {"data":{"name":"c99"},
    "mark":{"type":"area","fillOpacity":0,"stroke":"#5aa9de","strokeWidth":1,"strokeDash":[2,2],"clip":true},
    "encoding":{
     "x":{"field":"om","type":"quantitative","axis":null},
     "y":{"field":"lo","type":"quantitative","axis":null},
     "y2":{"field":"hi"}}},
   {"data":{"name":"zeroR"},
    "mark":{"type":"rule","stroke":"black","strokeWidth":1,"strokeDash":[2,2]},
    "encoding":{"y":{"field":"ol","type":"quantitative","axis":null}}},
   {"data":{"name":"expR"},
    "mark":{"type":"line","stroke":"black","strokeWidth":1.2,"clip":true},
    "encoding":{"x":{"field":"om","type":"quantitative","axis":null},"y":{"field":"ol","type":"quantitative","axis":null}}},
   {"data":{"name":"flatR"},
    "mark":{"type":"line","stroke":"black","strokeWidth":1.2,"clip":true},
    "encoding":{"x":{"field":"om","type":"quantitative","axis":null},"y":{"field":"ol","type":"quantitative","axis":null},"detail":{"field":"seg","type":"nominal"}}},
   {"data":{"name":"circR"},
    "mark":{"type":"point","shape":"circle","filled":false,"size":270,"stroke":"#1aa79c","strokeWidth":1.5,"opacity":1},
    "encoding":{"x":{"field":"om","type":"quantitative","axis":null},"y":{"field":"ol","type":"quantitative","axis":null}}},
   {"data":{"name":"arrowR"},
    "mark":{"type":"rule","stroke":"#1aa79c","strokeWidth":2.5},
    "encoding":{"x":{"field":"om","type":"quantitative","axis":null},"y":{"field":"a","type":"quantitative","axis":null},"y2":{"field":"b"}}},
   {"data":{"name":"headR"},
    "mark":{"type":"point","shape":"triangle-up","filled":true,"size":110,"color":"#1aa79c","opacity":1},
    "encoding":{"x":{"field":"om","type":"quantitative","axis":null},"y":{"field":"ol","type":"quantitative","axis":null}}},
   {"data":{"name":"annR"},"transform":[{"filter":"datum.k == 'nbb'"}],
    "mark":{"type":"text","font":"Liberation Sans","fontSize":18,"color":"#111111","align":"left","baseline":"middle"},
    "encoding":{"x":{"field":"om","type":"quantitative","axis":null},"y":{"field":"ol","type":"quantitative","axis":null},"text":{"field":"t"}}},
   {"data":{"name":"annR"},"transform":[{"filter":"datum.k == 'pct'"}],
    "mark":{"type":"text","font":"Liberation Sans","fontWeight":"bold","fontSize":19,"color":"#2a9fd9","baseline":"middle"},
    "encoding":{"x":{"field":"om","type":"quantitative","axis":null},"y":{"field":"ol","type":"quantitative","axis":null},"text":{"field":"t"}}},
   {"data":{"name":"annR"},"transform":[{"filter":"datum.k == 'exp'"}],
    "mark":{"type":"text","font":"Liberation Serif","fontSize":19,"color":"#2a9fd9","angle":349,"baseline":"middle"},
    "encoding":{"x":{"field":"om","type":"quantitative","axis":null},"y":{"field":"ol","type":"quantitative","axis":null},"text":{"field":"t"}}},
   {"data":{"name":"annR"},"transform":[{"filter":"datum.k == 'rec'"}],
    "mark":{"type":"text","font":"Liberation Serif","fontSize":18,"color":"#ec8e7a","angle":350,"baseline":"middle"},
    "encoding":{"x":{"field":"om","type":"quantitative","axis":null},"y":{"field":"ol","type":"quantitative","axis":null},"text":{"field":"t"}}},
   {"data":{"name":"annR"},"transform":[{"filter":"datum.k == 'geo'"}],
    "mark":{"type":"text","font":"Liberation Serif","fontSize":21,"color":"black","angle":44,"baseline":"middle"},
    "encoding":{"x":{"field":"om","type":"quantitative","axis":null},"y":{"field":"ol","type":"quantitative","axis":null},"text":{"field":"t"}}},
   {"data":{"name":"annR"},"transform":[{"filter":"datum.k == 'uni'"}],
    "mark":{"type":"text","font":"Liberation Serif","fontSize":21,"color":"#1aa79c","baseline":"middle"},
    "encoding":{"x":{"field":"om","type":"quantitative","axis":null},"y":{"field":"ol","type":"quantitative","axis":null},"text":{"field":"t"}}}
  ]
 }
]
}
